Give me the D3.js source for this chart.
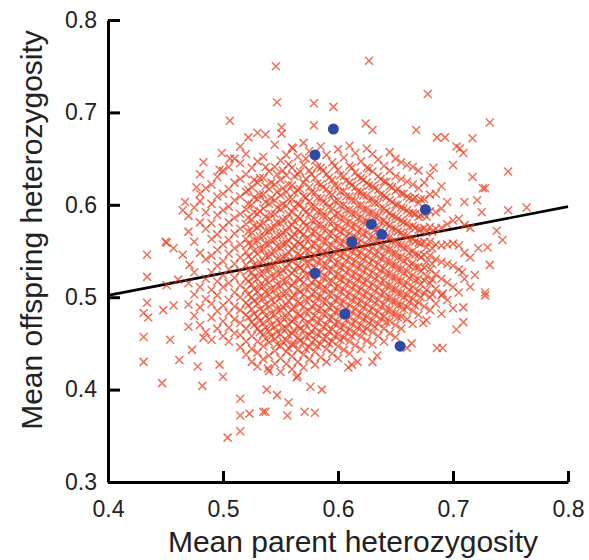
<!DOCTYPE html>
<html><head><meta charset="utf-8">
<script src="https://cdn.jsdelivr.net/npm/d3@7"></script>
<style>body{margin:0;background:#fff}svg{display:block}</style>
</head><body>
<script>
// ---- DATA (heterozygosity values, thousandths) ----
// dense cloud of simulated offspring, listed by parent-heterozygosity column
const colX = [470,475,480,485,490,495,500,505,510,515,520,525,530,535,540,545,550,555,560,565,570,575,580,585,590,595,600,605,610,615,620,625,630,635,640,645,650,655,660,665,670,675,680,685,690,695,700,705,710,715];
const colY = [
 [468,492,515,571,588],
 [480,503,527,560,597],
 [470,489,511,548,581,604,633],
 [462,498,520,541,574,592,618],
 [478,493,508,527,545,563,580,601,622],
 [466,485,502,517,534,551,568,589,609,630],
 [458,474,491,511,524,539,557,575,594,612,637],
 [452,467,483,497,515,530,547,562,581,598,617,641],
 [461,476,490,505,521,536,553,569,586,605,624,650],
 [446,459,472,486,500,513,528,543,557,574,590,609,628,645],
 [438,452,466,481,494,508,520,535,549,563,579,595,614,633,655],
 [430,444,458,473,487,500,514,527,541,556,570,584,600,619,640],
 [425,440,452,466,479,493,506,520,533,547,561,575,590,606,624,647],
 [433,447,460,472,485,499,512,526,539,552,566,580,596,611,629,652],
 [420,437,451,463,476,490,503,516,530,544,557,571,585,601,617,636],
 [428,442,455,468,481,494,508,521,535,549,562,576,590,605,622,641,665],
 [419,434,447,460,472,486,499,512,526,540,553,567,580,595,610,627,648],
 [428,441,453,466,478,491,504,517,531,544,558,571,585,599,614,632,654],
 [422,436,449,461,474,487,500,513,526,539,552,565,578,592,606,621,640,662],
 [415,430,443,456,469,482,495,508,521,534,547,560,573,587,601,616,633,652],
 [424,438,451,464,477,490,503,516,529,542,555,568,581,595,609,624,643,667],
 [433,446,459,472,485,498,511,524,537,550,563,576,590,604,619,637,658],
 [427,441,454,467,480,493,506,519,532,545,558,571,584,598,613,629,648],
 [435,449,462,475,488,501,514,527,540,553,566,579,593,607,622,640,663],
 [430,444,457,470,483,496,509,522,535,548,561,574,588,602,617,633,654],
 [439,452,465,478,491,504,517,530,543,556,569,582,596,611,627,646],
 [434,447,460,473,486,499,512,525,538,551,564,577,591,605,620,638,660],
 [443,456,469,482,495,508,521,534,547,560,573,586,600,615,631,651],
 [439,452,465,478,491,504,517,530,543,556,569,582,595,609,624,642,664],
 [448,461,474,487,500,513,526,539,552,565,578,591,605,619,635,656],
 [444,457,470,483,496,509,522,535,548,561,574,587,600,614,629,647],
 [453,466,479,492,505,518,531,544,557,570,583,596,610,624,640,661],
 [449,462,475,488,501,514,527,540,553,566,579,592,606,620,636,655],
 [458,471,484,497,510,523,536,549,562,575,588,602,616,631,649],
 [452,466,479,492,505,518,531,544,557,570,583,596,610,625,642],
 [461,474,487,500,513,526,539,552,565,578,591,605,620,637,657],
 [457,470,483,496,509,522,535,548,561,574,587,600,615,631,650],
 [466,479,492,505,518,531,544,557,570,583,597,612,628,646],
 [476,489,502,515,528,541,554,567,580,594,609,625,643],
 [471,485,498,511,524,537,550,563,577,591,606,622,641],
 [481,494,507,520,533,546,559,573,587,602,618,637],
 [490,504,518,532,546,560,575,590,606,624],
 [486,500,515,530,545,560,576,593,611,632],
 [493,509,525,541,557,574,592,612],
 [482,502,520,538,556,575,596,620],
 [497,516,536,557,579,603],
 [488,511,534,558,583],
 [505,530,556,585],
 [520,548,578,603],
 [511,543,575]
];
// second, interleaved set of columns in the crowded centre of the cloud
const colX2 = [522,527,532,537,542,547,552,557,562,567,572,577,582,587,592,597,602,607,612,617,622,627,632,637,642,647,652,657,662,667,672,677,682];
const colY2 = [
 [478,491,503,517,529,544,558,571,586,601,616],
 [470,482,496,509,522,535,550,562,577,592,608,627],
 [462,474,487,500,512,526,538,553,566,579,593,611,629],
 [455,467,480,492,506,519,531,545,558,572,587,603,620,641],
 [458,470,483,497,509,523,535,548,562,575,590,607,624],
 [449,462,475,487,501,514,527,541,555,567,581,597,614,633],
 [452,466,478,490,504,518,530,544,558,570,584,601,618,637],
 [445,459,471,483,496,510,523,536,549,562,576,590,606,622,644],
 [449,463,476,489,502,515,529,541,555,568,582,597,613,631],
 [453,466,480,493,506,519,532,545,558,571,585,600,617,636],
 [444,458,471,484,497,510,524,537,550,563,577,592,608,628,650],
 [451,463,477,490,503,516,529,542,556,569,583,598,614,633],
 [447,460,473,486,499,512,525,538,551,564,578,592,607,623,641],
 [455,468,482,495,508,521,534,547,560,574,588,603,619,637],
 [450,463,476,489,503,516,529,542,555,568,582,597,612,629],
 [458,471,484,497,510,523,536,549,562,575,589,604,621,642],
 [454,467,480,493,506,519,532,545,558,571,585,599,614,632],
 [462,475,488,501,514,527,540,553,566,580,594,609,626],
 [458,471,484,497,510,523,536,549,563,576,590,605,621,640],
 [467,480,493,506,519,532,545,558,571,585,599,614,631],
 [463,476,489,502,515,528,541,554,568,581,595,610,627],
 [472,485,498,511,524,537,550,563,577,591,605,621,639],
 [468,481,494,507,520,533,546,560,573,587,602,618],
 [477,490,503,516,529,542,555,568,582,596,611,628],
 [473,486,499,512,525,538,551,565,579,593,608,625],
 [482,495,508,521,534,547,560,574,588,603,619],
 [478,491,504,517,530,543,557,571,585,600,617],
 [487,500,513,526,539,553,567,581,596,612],
 [495,508,521,534,548,562,576,591,607],
 [491,504,518,532,546,560,575,590,608],
 [500,514,528,543,558,573,589,606],
 [508,523,538,554,570,587],
 [503,519,536,553,571]
];
// scattered offspring outside the dense cloud [parent, offspring]
const sparseX = [546,547,506,551,551,522,530,515,483,499,506,497,467,465,477,480,451,434,457,450,465,561,537,
 627,678,579,596,579,624,630,668,732,686,693,717,703,709,748,717,726,725,748,764,738,743,732,730,683,700,706,728,721,722,719,728,708,709,
 434,434,431,431,431,447,454,462,473,478,482,448,457,461,451,471,435,483,490,497,500,515,515,523,535,515,504,547,556,537,571,580,557,538,586,576,564,539,609,617,630,634,612,664,686,691,674,703,709,728,691,677,660];
const sparseY = [750,711,691,684,677,673,678,663,646,656,650,638,603,594,619,612,559,546,553,560,546,661,676,
 756,720,710,706,686,688,681,681,689,673,673,672,663,656,636,630,618,592,594,597,572,562,535,554,640,643,661,618,605,553,524,505,527,489,
 522,494,483,457,430,407,454,432,443,425,404,486,491,519,513,535,478,456,454,427,414,390,372,374,376,355,348,394,372,376,376,375,386,400,400,403,413,423,424,430,430,437,427,450,445,445,472,465,473,502,504,475,445];
// observed families (blue)
const obsX = [0.580,0.596,0.676,0.629,0.638,0.612,0.580,0.606,0.654];
const obsY = [0.654,0.682,0.595,0.579,0.568,0.560,0.526,0.482,0.447];
// regression line
const fitX = [0.4, 0.8];
const fitY = [0.502, 0.598];
const xTicks = [0.4,0.5,0.6,0.7,0.8];
const yTicks = [0.3,0.4,0.5,0.6,0.7,0.8];
const xTitle = "Mean parent heterozygosity";
const yTitle = "Mean offspring heterozygosity";

// ---- DRAW ----
const W = 589, H = 560;
const svg = d3.select("body").append("svg").attr("width", W).attr("height", H);
const x = d3.scaleLinear().domain([0.4, 0.8]).range([108, 568]);
const y = d3.scaleLinear().domain([0.3, 0.8]).range([482, 20]);

const crosses = [];
colX.forEach((cx, i) => colY[i].forEach(v => crosses.push([cx / 1000, v / 1000])));
colX2.forEach((cx, i) => colY2[i].forEach(v => crosses.push([cx / 1000, v / 1000])));
sparseX.forEach((v, i) => crosses.push([v / 1000, sparseY[i] / 1000]));

// regression line (under the crosses)
svg.append("path")
  .attr("d", d3.line().x(d => x(d[0])).y(d => y(d[1]))(fitX.map((v, i) => [v, fitY[i]])))
  .attr("stroke", "#000").attr("stroke-width", 2.6).attr("fill", "none");

const s = 4;
svg.append("g").selectAll("path").data(crosses).join("path")
  .attr("d", d => {
    const px = x(d[0]), py = y(d[1]);
    return `M${px - s},${py - s}L${px + s},${py + s}M${px - s},${py + s}L${px + s},${py - s}`;
  })
  .attr("stroke", "#e63a1a").attr("stroke-opacity", 0.72).attr("stroke-width", 1.5).attr("fill", "none");

svg.append("g").selectAll("circle").data(obsX.map((v, i) => [v, obsY[i]])).join("circle")
  .attr("cx", d => x(d[0])).attr("cy", d => y(d[1])).attr("r", 5.5)
  .attr("fill", "#2d4aa6");

// axes
const font = "'Liberation Sans', Arial, sans-serif";
const gx = svg.append("g").attr("transform", "translate(0,482)")
  .call(d3.axisBottom(x).tickValues(xTicks).tickFormat(d3.format(".1f")).tickSize(-11).tickSizeOuter(0).tickPadding(19));
const gy = svg.append("g").attr("transform", "translate(108,0)")
  .call(d3.axisLeft(y).tickValues(yTicks).tickFormat(d3.format(".1f")).tickSize(-12).tickSizeOuter(0).tickPadding(11));
[gx, gy].forEach(g => {
  g.select(".domain").attr("stroke", "#000").attr("stroke-width", 3);
  g.selectAll(".tick line").attr("stroke", "#000").attr("stroke-width", 3);
  g.selectAll(".tick text").attr("fill", "#222").style("font-family", font).style("font-size", "23px");
});

svg.append("text").attr("x", 353).attr("y", 552).attr("text-anchor", "middle")
  .style("font-family", font).style("font-size", "30px").attr("fill", "#222").text(xTitle);
svg.append("text").attr("transform", "translate(42,230) rotate(-90)").attr("text-anchor", "middle")
  .style("font-family", font).style("font-size", "30px").attr("fill", "#222").text(yTitle);
</script>
</body></html>
